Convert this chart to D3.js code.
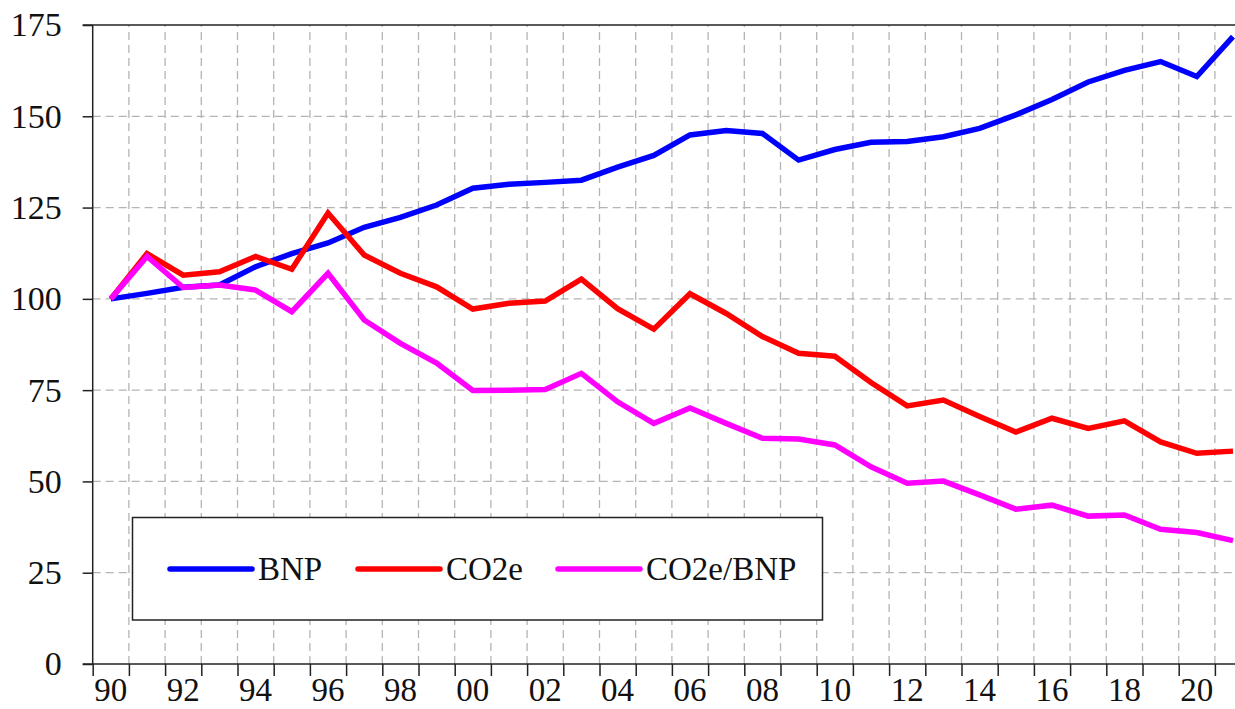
<!DOCTYPE html>
<html>
<head>
<meta charset="utf-8">
<script src="https://cdn.jsdelivr.net/npm/d3@7"></script>
<style>
  body { margin: 0; background: #fff; }
  svg { display: block; }
  text { font-family: "Liberation Serif", "Times New Roman", serif; fill: #111; }
</style>
</head>
<body>
<svg id="chart" width="1235" height="709"></svg>
<script>
// years on the x axis
var years = d3.range(1990, 2022)

// index values, 1990 = 100
var bnp = [100, 101.5, 103.2, 103.8, 108.8, 112.4, 115.3, 119.6, 122.3, 125.7,
           130.3, 131.4, 131.9, 132.5, 136.1, 139.3, 144.9, 146.1, 145.3, 138.0,
           140.9, 142.9, 143.1, 144.4, 146.7, 150.4, 154.6, 159.4, 162.6, 165.0,
           160.9, 171.8]
var co2e = [100, 112.4, 106.5, 107.4, 111.6, 108.1, 123.5, 112.0, 107.0, 103.3,
            97.2, 98.8, 99.4, 105.4, 97.3, 91.7, 101.4, 96.0, 89.7, 85.1,
            84.3, 77.1, 70.7, 72.3, 67.8, 63.5, 67.3, 64.5, 66.6, 60.8,
            57.7, 58.3]
var ratio = [100, 111.6, 103.1, 103.8, 102.4, 96.5, 107.0, 94.2, 87.8, 82.4,
             74.9, 75.0, 75.2, 79.6, 71.8, 65.9, 70.1, 65.9, 61.8, 61.6,
             60.0, 54.0, 49.5, 50.1, 46.3, 42.4, 43.5, 40.5, 40.8, 36.9,
             36.0, 33.8]

var yTicks = [0, 25, 50, 75, 100, 125, 150, 175]
var seriesNames = ["BNP", "CO2e", "CO2e/BNP"]
var seriesColors = ["#0000ff", "#ff0000", "#ff00ff"]

var svg = d3.select("#chart")
var W = 1235

// plot frame
var plotLeft = 92.7, plotBottom = 664, plotTop = 25
var bandW = 36.2

var x = d3.scaleBand()
    .domain(years)
    .range([plotLeft, plotLeft + bandW * years.length])
    .padding(0)
var y = d3.scaleLinear().domain([0, 175]).range([plotBottom, plotTop])

var cx = function(yr) { return x(yr) + x.bandwidth() / 2 }

// band boundaries for ticks and vertical grid
var edges = years.map(function(yr) { return x(yr) })

var grid = svg.append("g")
    .attr("stroke", "#b4b4b4")
    .attr("stroke-width", 1.3)
    .attr("stroke-dasharray", "8,5")

grid.selectAll(".vg")
    .data(edges.slice(1)).enter()
    .append("line")
    .attr("x1", function(d) { return d }).attr("x2", function(d) { return d })
    .attr("y1", plotBottom).attr("y2", plotTop)

grid.selectAll(".hg")
    .data(yTicks.slice(1, -1)).enter()
    .append("line")
    .attr("x1", plotLeft).attr("x2", W)
    .attr("y1", function(d) { return y(d) }).attr("y2", function(d) { return y(d) })

// legend box (drawn under the lines)
var lg = svg.append("g")
lg.append("rect")
    .attr("x", 132.5).attr("y", 517.5)
    .attr("width", 690).attr("height", 102.5)
    .attr("fill", "#fff")
    .attr("stroke", "#222")
    .attr("stroke-width", 1.5)

var legendX = [170, 358, 558]
seriesNames.forEach(function(name, i) {
    lg.append("line")
        .attr("x1", legendX[i]).attr("x2", legendX[i] + 82)
        .attr("y1", 569).attr("y2", 569)
        .attr("stroke", seriesColors[i])
        .attr("stroke-width", 5.5)
        .attr("stroke-linecap", "round")
    lg.append("text")
        .attr("x", legendX[i] + 88)
        .attr("y", 580)
        .attr("font-size", 33)
        .text(name)
})

// axes
var yAxis = d3.axisLeft(y)
    .tickValues(yTicks)
    .tickSize(10)
    .tickPadding(21)
var gy = svg.append("g")
    .attr("transform", "translate(" + plotLeft + ",0)")
    .call(yAxis)
gy.select(".domain").remove()
gy.selectAll("line").attr("stroke", "#222").attr("stroke-width", 1.5)
gy.selectAll("text").attr("font-size", 34).attr("font-family", "Liberation Serif").attr("fill", "#111")

svg.append("line")
    .attr("x1", plotLeft).attr("x2", plotLeft)
    .attr("y1", plotTop).attr("y2", plotBottom)
    .attr("stroke", "#222").attr("stroke-width", 1.5)
svg.append("line")
    .attr("x1", plotLeft - 10).attr("x2", W)
    .attr("y1", plotTop).attr("y2", plotTop)
    .attr("stroke", "#222").attr("stroke-width", 1.5)

// x tick marks at band edges
var xTickScale = d3.scaleLinear().domain([0, years.length]).range(x.range())
var xAxisTicks = d3.axisBottom(xTickScale)
    .tickValues(d3.range(0, years.length))
    .tickSize(12)
    .tickFormat("")
var gx = svg.append("g")
    .attr("transform", "translate(0," + plotBottom + ")")
    .call(xAxisTicks)
gx.select(".domain").remove()
gx.selectAll("line").attr("stroke", "#222").attr("stroke-width", 1.5)

svg.append("line")
    .attr("x1", plotLeft - 10).attr("x2", W)
    .attr("y1", plotBottom).attr("y2", plotBottom)
    .attr("stroke", "#222").attr("stroke-width", 1.5)

// x labels on every second year
var xLabels = d3.axisBottom(x)
    .tickValues(years.filter(function(d) { return d % 2 === 0 }))
    .tickSize(0)
    .tickFormat(function(d) { return String(d).slice(2) })
var gxl = svg.append("g")
    .attr("transform", "translate(0," + plotBottom + ")")
    .call(xLabels)
gxl.select(".domain").remove()
gxl.selectAll("text")
    .attr("y", 37).attr("dy", 0)
    .attr("font-size", 33).attr("font-family", "Liberation Serif").attr("fill", "#111")

// data lines
var line = d3.line()
    .x(function(d, i) { return cx(years[i]) })
    .y(function(d) { return y(d) })

var allSeries = [bnp, co2e, ratio]
svg.append("g").selectAll("path")
    .data(allSeries).enter()
    .append("path")
    .attr("d", line)
    .attr("fill", "none")
    .attr("stroke", function(d, i) { return seriesColors[i] })
    .attr("stroke-width", 5.5)
    .attr("stroke-linejoin", "miter")
    .attr("stroke-linecap", "butt")
</script>
</body>
</html>
